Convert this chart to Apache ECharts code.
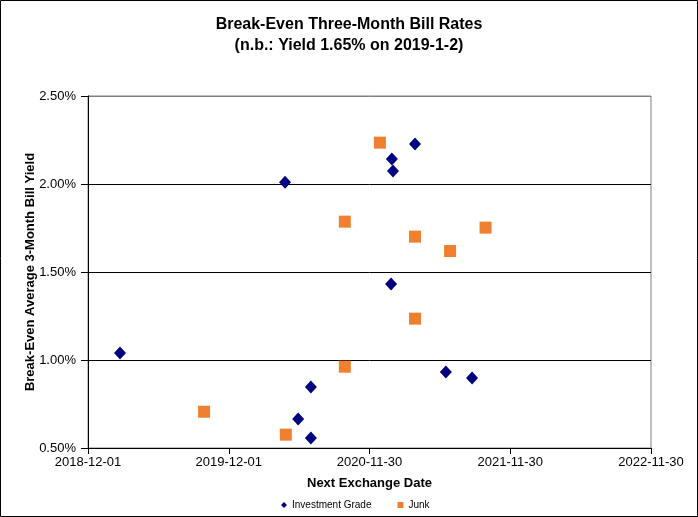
<!DOCTYPE html>
<html>
<head>
<meta charset="utf-8">
<script src="https://cdn.jsdelivr.net/npm/echarts@6/dist/echarts.min.js"></script>
<style>
html,body{margin:0;padding:0;background:#fff;}
#c{width:698px;height:517px;}
</style>
</head>
<body>
<div id="c"></div>
<script>
// Data (dates = next exchange date, values = break-even yield in %)
const igDates = ['2019-02-22','2020-04-25','2020-05-29','2020-07-01','2020-07-01','2021-01-27','2021-01-30','2021-01-25','2021-03-28','2021-06-16','2021-08-23'];
const igYields = [1.04, 2.01, 0.665, 0.847, 0.557, 2.142, 2.074, 1.432, 2.227, 0.932, 0.898];
const junkDates = ['2019-09-28','2020-04-27','2020-09-27','2020-09-27','2020-12-27','2021-03-28','2021-03-28','2021-06-27','2021-09-27'];
const junkYields = [0.706, 0.576, 1.786, 0.962, 2.235, 1.701, 1.235, 1.619, 1.752];
const xStart = '2018-12-01';
const xTickDays = 365;
const yTicks = [0.5, 1.0, 1.5, 2.0, 2.5];

const DAY = 86400000;
const sp = xStart.split('-').map(Number);
const base = Date.UTC(sp[0], sp[1]-1, sp[2]);
function toDays(s){ const p = s.split('-').map(Number); return Math.round((Date.UTC(p[0], p[1]-1, p[2]) - base) / DAY); }
function fmtDate(v){
  const d = new Date(base + Math.round(v) * DAY);
  const m = String(d.getUTCMonth()+1).padStart(2,'0');
  const dd = String(d.getUTCDate()).padStart(2,'0');
  return d.getUTCFullYear() + '-' + m + '-' + dd;
}
const igData = igDates.map((d,i)=>[toDays(d), igYields[i]]);
const junkData = junkDates.map((d,i)=>[toDays(d), junkYields[i]]);

const chart = echarts.init(document.getElementById('c'), null, {renderer:'canvas'});
const F = 'Arial, "Liberation Sans", sans-serif';
chart.setOption({
  animation: false,
  backgroundColor: '#fff',
  title: {
    text: 'Break-Even Three-Month Bill Rates\n(n.b.: Yield 1.65% on 2019-1-2)',
    left: 'center', top: 9,
    textStyle: {fontFamily: F, fontSize: 16, fontWeight: 'bold', color: '#000', lineHeight: 21}
  },
  legend: {
    bottom: 2, left: 276,
    itemWidth: 6, itemHeight: 6, itemGap: 26,
    textStyle: {fontFamily: F, fontSize: 10, color: '#000'},
    data: [{name:'Investment Grade', icon:'diamond'}, {name:'Junk', icon:'rect'}]
  },
  grid: {left: 88, right: 47, top: 96, bottom: 69, show: true, borderColor: '#808080', borderWidth: 1},
  xAxis: {
    type: 'value', min: 0, max: 4 * xTickDays, interval: xTickDays,
    name: 'Next Exchange Date', nameLocation: 'middle', nameGap: 29, nameMoveOverlap: false,
    nameTextStyle: {fontFamily: F, fontSize: 13, fontWeight: 'bold', color: '#000'},
    axisLine: {show: true, lineStyle: {color: '#000', width: 1}},
    axisTick: {show: true, length: 6, lineStyle: {color: '#000'}},
    axisLabel: {fontFamily: F, fontSize: 13, color: '#000', margin: 8, formatter: fmtDate},
    splitLine: {show: false}
  },
  yAxis: {
    type: 'value', min: yTicks[0], max: yTicks[yTicks.length-1], interval: 0.5,
    name: 'Break-Even Average 3-Month Bill Yield', nameLocation: 'middle', nameGap: 51, nameMoveOverlap: false,
    nameTextStyle: {fontFamily: F, fontSize: 13, fontWeight: 'bold', color: '#000'},
    axisLine: {show: true, lineStyle: {color: '#000', width: 1}},
    axisTick: {show: true, length: 7, lineStyle: {color: '#000'}},
    axisLabel: {fontFamily: F, fontSize: 13, color: '#000', margin: 12, formatter: v => v.toFixed(2) + '%'},
    splitLine: {show: true, lineStyle: {color: ['#000','#000','#000','#000','#808080'], width: 1}}
  },
  graphic: [{
    type: 'rect', shape: {x: 0.5, y: 0.5, width: 697, height: 516},
    style: {fill: 'none', stroke: '#000', lineWidth: 1}, z: 100
  }],
  series: [
    {name: 'Investment Grade', type: 'scatter', symbol: 'diamond', symbolSize: [12, 13],
     itemStyle: {color: '#000080', opacity: 1}, data: igData},
    {name: 'Junk', type: 'scatter', symbol: 'rect', symbolSize: 12,
     itemStyle: {color: '#F08030', opacity: 1}, data: junkData}
  ]
});
</script>
</body>
</html>
